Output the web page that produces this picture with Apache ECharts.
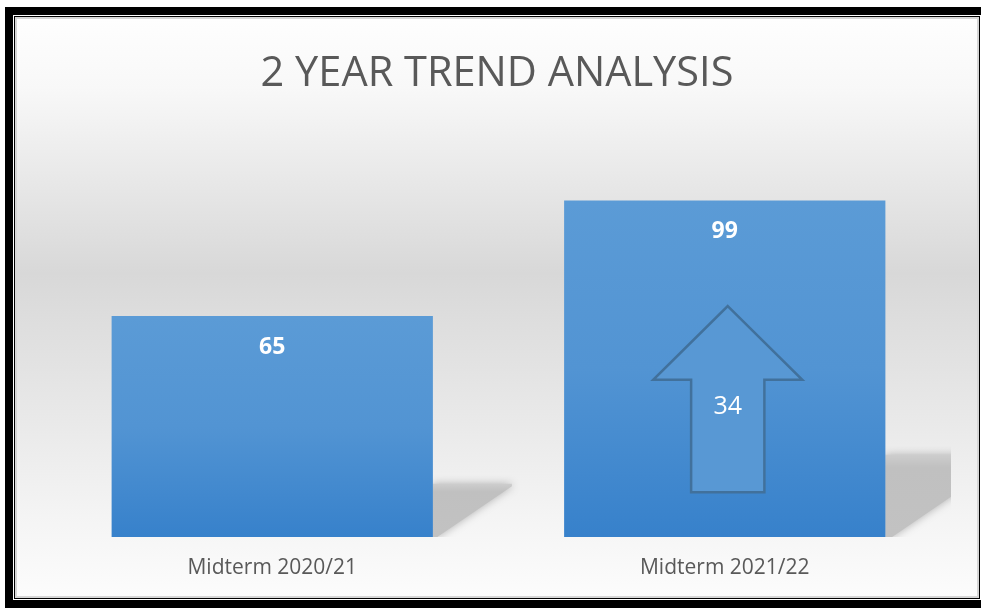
<!DOCTYPE html>
<html>
<head>
<meta charset="utf-8">
<script src="https://cdn.jsdelivr.net/npm/echarts@6/dist/echarts.min.js"></script>
<style>
  html, body { margin: 0; padding: 0; background: #fff; width: 981px; height: 608px; overflow: hidden; }
  .layer { position: absolute; }
  #outer { left: 5px; top: 7px; width: 1000px; height: 601px; background: #000; }
  #gap { left: 13px; top: 15px; width: 968px; height: 585px; background: #fff; }
  #inner { left: 14px; top: 16px; width: 966px; height: 583px; background: #000; }
  #edge { left: 15px; top: 17px; width: 964px; height: 581px; background: #d6d6d6; }
  #chart { left: 17px; top: 19px; width: 960px; height: 577px; }
</style>
</head>
<body>
<div class="layer" id="outer"></div>
<div class="layer" id="gap"></div>
<div class="layer" id="inner"></div>
<div class="layer" id="edge"></div>
<div class="layer" id="chart"></div>
<script>
const categories = ['Midterm 2020/21', 'Midterm 2021/22'];
const values = [65, 99];
const titleText = '2 YEAR TREND ANALYSIS';

const increase = values[1] - values[0];
const BAR_RATIO = 0.71;

const chart = echarts.init(document.getElementById('chart'));

const option = {
  animation: false,
  backgroundColor: {
    type: 'linear', x: 0, y: 0, x2: 0, y2: 1,
    colorStops: [
      { offset: 0, color: '#fefefe' },
      { offset: 0.12, color: '#f8f8f8' },
      { offset: 0.44, color: '#d8d8d8' },
      { offset: 0.86, color: '#f4f4f4' },
      { offset: 1, color: '#fcfcfc' }
    ]
  },
  title: {
    text: titleText,
    left: 'center',
    top: 29,
    textStyle: {
      fontFamily: 'Open Sans',
      fontSize: 41.5,
      fontWeight: 'normal',
      color: '#595959'
    }
  },
  grid: {
    left: 29,
    right: 26,
    top: 110,
    bottom: 59,
    containLabel: false
  },
  xAxis: {
    type: 'category',
    data: categories,
    axisLine: { show: false },
    axisTick: { show: false },
    axisLabel: {
      color: '#595959',
      fontFamily: 'Open Sans',
      fontSize: 21,
      margin: 21
    }
  },
  yAxis: {
    type: 'value',
    min: 0,
    max: 120,
    show: false,
    splitLine: { show: false }
  },
  series: [
    {
      // perspective shadow behind each bar
      type: 'custom',
      z: 1,
      clip: true,
      data: values.map((v, i) => [i, v]),
      renderItem: (params, api) => {
        const i = api.value(0);
        const top = api.coord([i, api.value(1)]);
        const base = api.coord([i, 0]);
        const band = api.size([1, 0])[0];
        const right = top[0] + band * BAR_RATIO / 2;
        const h = (base[1] - top[1]) * 0.25;
        const w = h * 1.43;
        return {
          type: 'polygon',
          shape: {
            points: [
              [right, base[1] - h + 2],
              [right + w, base[1] - h + 2],
              [right + w, base[1] - h + h * 0.08],
              [right + h * 0.08, base[1]],
              [right, base[1]]
            ]
          },
          style: {
            fill: {
              type: 'linear', x: 0, y: 0, x2: 0, y2: 1,
              colorStops: [
                { offset: 0, color: '#cdcdcd' },
                { offset: 0.15, color: '#c0c0c0' },
                { offset: 1, color: '#c2c2c2' }
              ]
            },
            shadowBlur: 9,
            shadowColor: 'rgba(170,170,170,0.9)'
          }
        };
      }
    },
    {
      type: 'bar',
      z: 2,
      data: values,
      barWidth: (BAR_RATIO * 100) + '%',
      itemStyle: {
        color: {
          type: 'linear', x: 0, y: 0, x2: 0, y2: 1,
          colorStops: [
            { offset: 0, color: '#5b9bd6' },
            { offset: 0.5, color: '#5294d3' },
            { offset: 1, color: '#3781cb' }
          ]
        }
      },
      label: {
        show: true,
        position: 'insideTop',
        distance: 20,
        color: '#ffffff',
        fontFamily: 'Open Sans',
        fontWeight: 'bold',
        fontSize: 23
      }
    },
    {
      // up arrow showing the change between the two terms
      type: 'custom',
      z: 3,
      data: [[1, values[1], increase]],
      renderItem: (params, api) => {
        const i = api.value(0);
        const v = api.value(1);
        const band = api.size([1, 0])[0];
        const barW = band * BAR_RATIO;
        const cx = api.coord([i, 0])[0] + 3;
        const tipY = api.coord([i, v * 0.686])[1];
        const neckY = api.coord([i, v * 0.467])[1];
        const baseY = api.coord([i, v * 0.133])[1];
        const textY = api.coord([i, v * 0.386])[1];
        const wing = barW * 0.232;
        const shaft = barW * 0.114;
        return {
          type: 'group',
          children: [
            {
              type: 'polygon',
              shape: {
                points: [
                  [cx, tipY],
                  [cx + wing, neckY],
                  [cx + shaft, neckY],
                  [cx + shaft, baseY],
                  [cx - shaft, baseY],
                  [cx - shaft, neckY],
                  [cx - wing, neckY]
                ]
              },
              style: {
                fill: '#5898d4',
                stroke: '#41719c',
                lineWidth: 2.5,
                lineJoin: 'miter'
              }
            },
            {
              type: 'text',
              x: cx,
              y: textY,
              style: {
                text: String(api.value(2)),
                fill: '#ffffff',
                fontFamily: 'Open Sans',
                fontSize: 25,
                align: 'center',
                verticalAlign: 'middle'
              }
            }
          ]
        };
      }
    }
  ]
};

chart.setOption(option);
</script>
</body>
</html>
